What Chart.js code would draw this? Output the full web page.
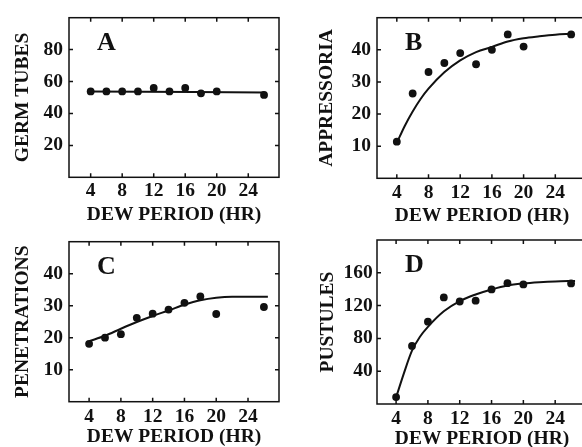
<!DOCTYPE html>
<html><head><meta charset="utf-8">
<script src="https://cdn.jsdelivr.net/npm/chart.js@4.4.0/dist/chart.umd.min.js"></script>
<style>
html,body{margin:0;padding:0;background:#fff;width:582px;height:447px;overflow:hidden;position:relative}
canvas{position:absolute;display:block}
</style></head><body>
<canvas id="cA" width="291" height="240" style="left:0;top:0;width:291px;height:240px"></canvas>
<canvas id="cB" width="300" height="240" style="left:291px;top:0;width:300px;height:240px"></canvas>
<canvas id="cC" width="291" height="240" style="left:0;top:224px;width:291px;height:240px"></canvas>
<canvas id="cD" width="300" height="240" style="left:291px;top:224px;width:300px;height:240px"></canvas>
<script>
// ---- data ----
const hours = [4, 6, 8, 10, 12, 14, 16, 18, 20, 26];
const xTickValues = [4, 8, 12, 16, 20, 24];

const germTubes    = [53.8, 53.8, 53.8, 53.8, 56, 53.8, 56, 52.6, 53.8, 51.6];
const appressoria  = [11.4, 26.4, 33.1, 35.9, 39, 35.5, 40, 44.8, 41, 44.8];
const penetrations = [18.1, 20, 21.1, 26.2, 27.5, 28.8, 30.9, 32.9, 27.4, 29.6];
const pustules     = [8.4, 70.8, 100.4, 130, 125, 126, 139.7, 147.4, 145.8, 147];

// fitted curves
const germFitX = [4, 26];
const germFitY = [53.8, 53.2];
const appFitX  = [4, 5, 6, 7, 8, 10, 12, 14, 16, 18, 20, 22, 24, 26];
const appFitY  = [11, 16.3, 20.8, 24.7, 27.9, 33, 36.7, 39.3, 40.9, 42.6, 43.6, 44.2, 44.7, 45];
const penFitX  = [4, 6, 8, 10, 12, 14, 16, 18, 20, 22, 24, 26.5];
const penFitY  = [18.9, 20.6, 22.8, 24.9, 26.8, 28.5, 30.3, 31.7, 32.5, 32.8, 32.8, 32.8];
const pusFitX  = [4, 5, 6, 7, 8, 10, 12, 14, 16, 18, 20, 22, 24, 26.5];
const pusFitY  = [8, 38, 65, 82, 94, 113, 125.5, 133.6, 139.7, 144.5, 147, 148.5, 149.5, 150];

const germTicks = [20, 40, 60, 80];
const appTicks  = [10, 20, 30, 40];
const penTicks  = [10, 20, 30, 40];
const pusTicks  = [40, 80, 120, 160];

const xTitle = 'DEW PERIOD (HR)';

// ---- styling ----
const INK = '#111111';
const FAMILY = "'Liberation Serif', 'DejaVu Serif', serif";
const FONT = {family: FAMILY, size: 19.5, weight: 'bold'};

const decor = {
  id: 'decor',
  afterDraw(chart, args, opts) {
    const {ctx, chartArea: ca, scales} = chart;
    ctx.save();
    ctx.strokeStyle = INK;
    ctx.lineWidth = 1.5;
    ctx.strokeRect(ca.left, ca.top, ca.right - ca.left, ca.bottom - ca.top);
    ctx.beginPath();
    const L = 4;
    scales.x.ticks.forEach(t => {
      const p = scales.x.getPixelForValue(t.value);
      ctx.moveTo(p, ca.bottom); ctx.lineTo(p, ca.bottom - L);
      ctx.moveTo(p, ca.top); ctx.lineTo(p, ca.top + L);
    });
    scales.y.ticks.forEach(t => {
      const p = scales.y.getPixelForValue(t.value);
      ctx.moveTo(ca.left, p); ctx.lineTo(ca.left + L, p);
      ctx.moveTo(ca.right, p); ctx.lineTo(ca.right - L, p);
    });
    ctx.stroke();
    ctx.fillStyle = INK;
    ctx.font = "bold 26px " + FAMILY;
    ctx.textAlign = 'left';
    ctx.textBaseline = 'alphabetic';
    ctx.fillText(opts.letter, ca.left + 28, ca.top + 32);
    ctx.restore();
  }
};

function makePanel(id, o) {
  return new Chart(document.getElementById(id), {
    type: 'scatter',
    data: {
      datasets: [
        {type: 'line', data: o.fitX.map((x, i) => ({x, y: o.fitY[i]})),
         borderColor: INK, borderWidth: 2, pointRadius: 0, fill: false,
         cubicInterpolationMode: 'monotone', order: 1},
        {data: hours.map((x, i) => ({x, y: o.vals[i]})),
         backgroundColor: INK, borderColor: INK, pointRadius: 3.9, borderWidth: 0, order: 0}
      ]
    },
    options: {
      responsive: false, animation: false, devicePixelRatio: 1,
      layout: {padding: {left: 0, right: o.padR, top: o.padT, bottom: 0}},
      plugins: {legend: {display: false}, tooltip: {enabled: false}, decor: {letter: o.letter}},
      scales: {
        x: {
          type: 'linear', min: o.xMin, max: o.xMax,
          grid: {display: false, drawTicks: false}, border: {display: false},
          afterBuildTicks: s => { s.ticks = xTickValues.map(v => ({value: v})); },
          afterFit: s => { s.height = o.xAxisH; },
          ticks: {font: FONT, color: INK, padding: o.xTickPad, maxRotation: 0, autoSkip: false},
          title: {display: true, text: xTitle, font: FONT, color: INK, padding: {top: 0, bottom: o.xTitlePad}}
        },
        y: {
          type: 'linear', min: o.yMin, max: o.yMax,
          grid: {display: false, drawTicks: false}, border: {display: false},
          afterBuildTicks: s => { s.ticks = o.yTicks.map(v => ({value: v})); },
          afterFit: s => { s.width = o.yAxisW; },
          ticks: {font: FONT, color: INK, padding: o.yTickPad},
          title: {display: true, text: o.yTitle, font: FONT, color: INK, padding: {top: o.yTitlePad, bottom: 0}}
        }
      }
    },
    plugins: [decor]
  });
}

makePanel('cA', {vals: germTubes, fitX: germFitX, fitY: germFitY, yTicks: germTicks,
  yTitle: 'GERM TUBES', letter: 'A', xMin: 1.25, xMax: 27.9, yMin: 0, yMax: 100,
  padR: 12, padT: 13, xAxisH: 62.7, yAxisW: 69, xTitlePad: 13.3, yTitlePad: 11,
  xTickPad: 2, yTickPad: 6});
makePanel('cB', {vals: appressoria, fitX: appFitX, fitY: appFitY, yTicks: appTicks,
  yTitle: 'APPRESSORIA', letter: 'B', xMin: 1.5, xMax: 28, yMin: 0, yMax: 50,
  padR: 4, padT: 14, xAxisH: 61.7, yAxisW: 86, xTitlePad: 12.8, yTitlePad: 24.3,
  xTickPad: 2.5, yTickPad: 6});
makePanel('cC', {vals: penetrations, fitX: penFitX, fitY: penFitY, yTicks: penTicks,
  yTitle: 'PENETRATIONS', letter: 'C', xMin: 1.47, xMax: 27.9, yMin: 0, yMax: 50,
  padR: 12, padT: 14, xAxisH: 62.3, yAxisW: 69, xTitlePad: 15.3, yTitlePad: 11,
  xTickPad: 3.6, yTickPad: 6});
makePanel('cD', {vals: pustules, fitX: pusFitX, fitY: pusFitY, yTicks: pusTicks,
  yTitle: 'PUSTULES', letter: 'D', xMin: 1.6, xMax: 28, yMin: 0, yMax: 200,
  padR: 4, padT: 16, xAxisH: 60, yAxisW: 86, xTitlePad: 13.3, yTitlePad: 25,
  xTickPad: 2.8, yTickPad: 4.3});
</script>
</body></html>
